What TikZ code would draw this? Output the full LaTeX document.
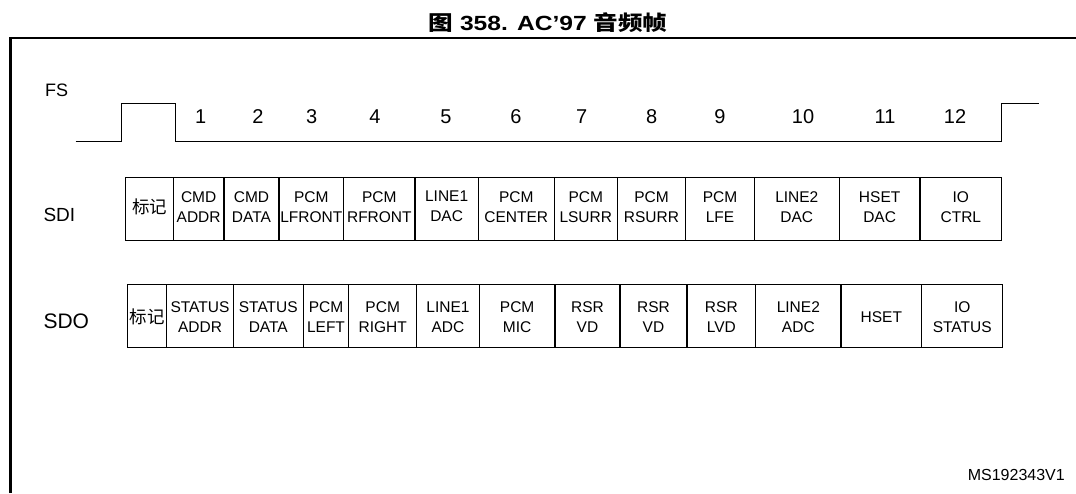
\documentclass[tikz,border=0pt]{standalone}
\usepackage{fontspec}
\setmainfont{Liberation Sans}
\newfontfamily\cjk{Noto Sans CJK SC}
\usepackage{graphicx}
\newcommand\boxfont{\fontsize{15.5}{20}\selectfont}
\tikzset{
  frameline/.style={line width=2.3pt},
  wave/.style={line width=1.5pt, line join=miter},
  cell/.style={draw, line width=1.1pt, inner sep=0pt, minimum height=#1},
  celltext/.style={inner sep=0pt, align=center, font=\boxfont},
  slotnum/.style={inner sep=0pt, anchor=base, font=\fontsize{20}{24}\selectfont},
  sig/.style={inner sep=0pt, anchor=base west},
}
\begin{document}
\begin{tikzpicture}[x=1pt,y=-1pt]
\useasboundingbox (0,0) rectangle (1076,493);
% title
\node[inner sep=0pt] (title) at (548,22.5)
  {\scalebox{1.2}[1]{\fontsize{20.5}{24}\selectfont\bfseries{\cjk 图} 358. AC’97 {\cjk 音频帧}}};
% frame
\coordinate (fbl) at (10.5,493);
\coordinate (ftl) at (10.5,38);
\coordinate (ftr) at (1076,38);
\draw[frameline] (fbl) -- (ftl) -- (ftr);
% labels
\node[sig, font=\fontsize{18}{21}\selectfont] (fs) at (45,96) {FS};
\node[sig, font=\fontsize{19}{22}\selectfont] (sdi) at (43.3,221) {SDI};
\node[sig, font=\fontsize{21}{24}\selectfont] (sdo) at (43.3,328.3) {SDO};
\node[inner sep=0pt, anchor=base east, font=\fontsize{16}{19}\selectfont] (ms) at (1065,480.7) {MS192343V1};
% FS waveform
\coordinate (w0) at (75.7,141.7);
\coordinate (w1) at (121.7,141.7);
\coordinate (w2) at (121.7,103.7);
\coordinate (w3) at (175.7,103.7);
\coordinate (w4) at (175.7,141.7);
\coordinate (w5) at (1001.7,141.7);
\coordinate (w6) at (1001.7,103.7);
\coordinate (w7) at (1039,103.7);
\draw[wave] (w0) -- (w1) -- (w2) -- (w3) -- (w4) -- (w5) -- (w6) -- (w7);
% slot numbers
\foreach \xx/\nn in {200.7/1,258/2,311.7/3,375/4,446/5,516/6,581.7/7,651.7/8,720/9,803/10,885/11,955/12}
  \node[slotnum] (n\nn) at (\xx,123.3) {\nn};
% SDI row
\foreach \l/\r/\txt [count=\i] in {
  125.7/173.3/{\cjk\fontsize{17.5}{20}\selectfont 标记},
  173.3/224/{CMD\\ADDR},
  224/279/{CMD\\DATA},
  279/343.7/{PCM\\LFRONT},
  343.7/415/{PCM\\RFRONT},
  415/478.3/{LINE1\\DAC},
  478.3/554.3/{PCM\\CENTER},
  554.3/617.3/{PCM\\LSURR},
  617.3/685.7/{PCM\\RSURR},
  685.7/754.3/{PCM\\LFE},
  754.3/839.3/{LINE2\\DAC},
  839.3/920/{HSET\\DAC},
  920/1001.7/{IO\\CTRL}}
{
  \node[cell=62.3pt, minimum width={(\r-\l)*1pt}] (sdic\i) at ({(\l+\r)/2},208.9) {};
  \node[celltext] (sdit\i) at ([yshift=2.2pt]sdic\i.center) {\txt};
}
% SDO row
\foreach \l/\r/\txt [count=\i] in {
  127.7/166.7/{\cjk\fontsize{17.5}{20}\selectfont 标记},
  166.7/233.3/{STATUS\\ADDR},
  233.3/303.3/{STATUS\\DATA},
  303.3/348.7/{PCM\\LEFT},
  348.7/416.7/{PCM\\RIGHT},
  416.7/479.3/{LINE1\\ADC},
  479.3/555/{PCM\\MIC},
  555/620/{RSR\\VD},
  620/687/{RSR\\VD},
  687/755.7/{RSR\\LVD},
  755.7/841/{LINE2\\ADC},
  841/921.7/{HSET},
  921.7/1002.7/{IO\\STATUS}}
{
  \node[cell=63pt, minimum width={(\r-\l)*1pt}] (sdoc\i) at ({(\l+\r)/2},315.8) {};
  \node[celltext] (sdot\i) at ([yshift=-1pt]sdoc\i.center) {\txt};
}
\end{tikzpicture}
\end{document}
